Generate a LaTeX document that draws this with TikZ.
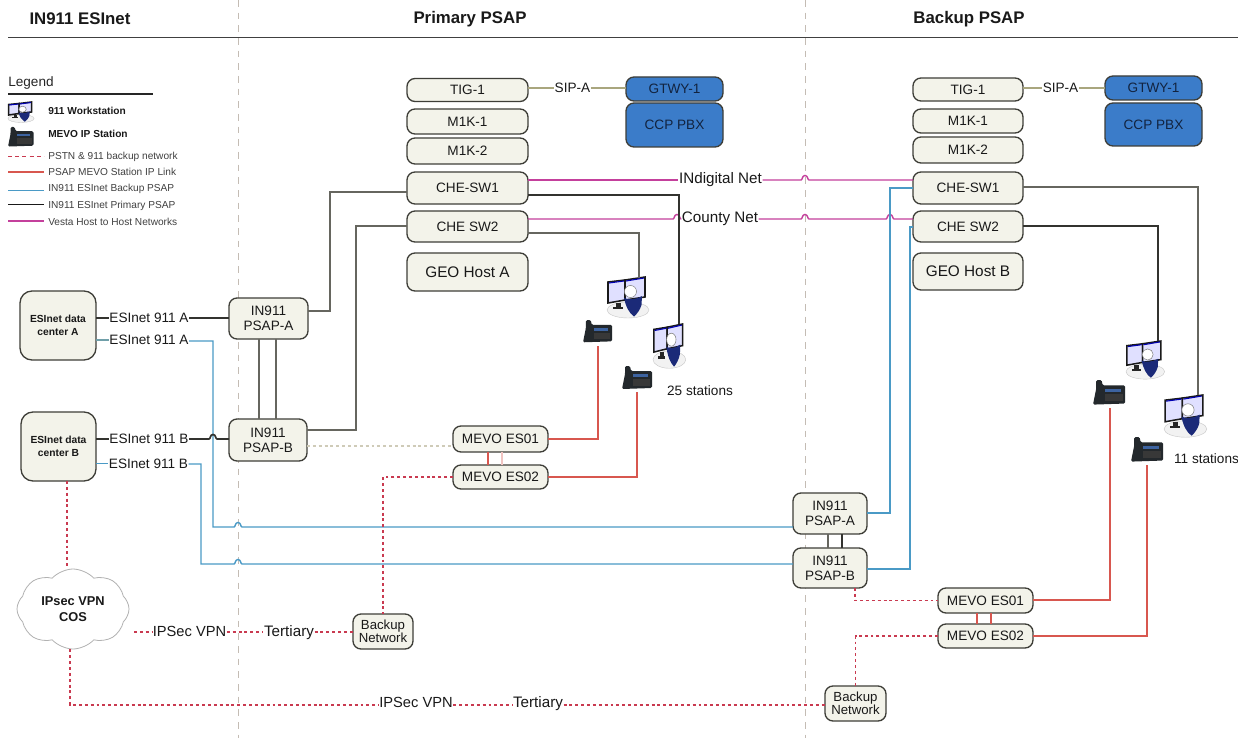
\documentclass[tikz,border=0pt]{standalone}
\usepackage{fontspec}
\setmainfont{Liberation Sans}
\usetikzlibrary{shapes.symbols}
\definecolor{boxfill}{HTML}{F3F3EA}
\definecolor{boxline}{HTML}{3E3E38}
\definecolor{pbxfill}{HTML}{3B7CC9}
\definecolor{pbxtext}{HTML}{12233F}
\definecolor{darkln}{HTML}{33332F}
\definecolor{greyln}{HTML}{66665F}
\definecolor{tanln}{HTML}{A9A67E}
\definecolor{blueln}{HTML}{4A9AC6}
\definecolor{pinkln}{HTML}{C4409C}
\definecolor{redln}{HTML}{D8574F}
\definecolor{reddash}{HTML}{C93A50}
\definecolor{paledash}{HTML}{CFCBB8}
\definecolor{divider}{HTML}{C4BCB4}
\definecolor{navyfig}{HTML}{1B2A78}
\definecolor{phonebody}{HTML}{23282C}
\definecolor{phonescreen}{HTML}{3D63A0}
\tikzset{
  size/.style 2 args={minimum width=#1*0.75pt,minimum height=#2*0.75pt},
  box/.style={draw=boxline,fill=boxfill,line width=1pt,rounded corners=6pt,inner sep=0pt,outer sep=0pt,align=center,text=black!90,font=\fontsize{10.2}{11.5}\selectfont},
  bluebox/.style={box,fill=pbxfill,draw=boxline,text=pbxtext},
  lbl/.style={inner sep=0.5pt,outer sep=0pt,text height=7.3pt,text depth=0pt,text=black!90,font=\fontsize{10.2}{12}\selectfont},
  lblbig/.style={lbl,text height=8.2pt,font=\fontsize{11.4}{13}\selectfont},
  lblmid/.style={lbl,text height=7.9pt,font=\fontsize{11}{13}\selectfont},
  legtext/.style={anchor=west,inner sep=0pt,text=black!75,font=\fontsize{7.6}{9}\selectfont},
  legbold/.style={anchor=west,inner sep=0pt,text=black!90,font=\fontsize{7.6}{9}\bfseries\selectfont},
  head/.style={inner sep=0pt,text=black!90,font=\fontsize{12.6}{14}\bfseries\selectfont},
  dkline/.style={draw=darkln,line width=1pt},
  gyline/.style={draw=greyln,line width=0.95pt},
  tnline/.style={draw=tanln,line width=0.95pt},
  blline/.style={draw=blueln,line width=1.05pt},
  pkline/.style={draw=pinkln,line width=1.05pt},
  rdline/.style={draw=redln,line width=1pt},
  rddash/.style={draw=reddash,line width=0.95pt,dash pattern=on 2.2pt off 2.2pt},
  pldash/.style={draw=paledash,line width=0.9pt,dash pattern=on 2.2pt off 2.2pt},
  divline/.style={draw=divider,line width=0.7pt,dash pattern=on 5pt off 4.5pt},
}
\newcommand\bump[2]{-- ({#1-4},#2) .. controls ({#1-2.5},#2) and ({#1-3},{#2-4.5}) .. (#1,{#2-4.5}) .. controls ({#1+3},{#2-4.5}) and ({#1+2.5},#2) .. ({#1+4},#2)}
\newcommand\workicon[4]{%
 \begin{scope}[shift={(#1,#2)},xscale=#3,yscale=#4]
  \fill[fill=black!5,draw=black!22,line width=0.3pt] (21,33) ellipse [x radius=21,y radius=8];
  \fill[black!85] (9,26) rectangle (14,30);
  \fill[black!85] (6,30) -- (16,30) -- (16,32) -- (6,32) -- cycle;
  \fill[fill=white!88!blue,draw=black!90,line width=1.15pt] (1,5) -- (18,3) -- (18,23) -- (1,26) -- cycle;
  \fill[fill=white!88!blue,draw=black!90,line width=1.15pt] (18,3) -- (38,0) -- (38,20) -- (18,23) -- cycle;
  \draw[blue!70!black,line width=0.8pt] (2,6) -- (17,4) (19,4) -- (37,1);
  \fill[white] (23.5,14.5) circle [radius=6];
  \draw[black!50,line width=0.4pt] (23.5,14.5) circle [radius=6];
  \fill[navyfig] (17,21) .. controls (21,23) and (28,23) .. (35,19) -- (34.5,28) .. controls (33,33) and (30,37) .. (27,39.5) .. controls (22,36) and (19,30) .. cycle;
 \end{scope}}
\newcommand\phoneicon[3]{%
 \begin{scope}[shift={(#1,#2)},scale=#3]
  \fill[phonebody,rounded corners=1pt] (3,0) -- (8,0) -- (9,5) -- (30,5) -- (30,22) -- (0,23) -- (3,8) -- cycle;
  \fill[phonescreen] (11,8) rectangle (26,11);
  \fill[black!78] (11,13) rectangle (28,20);
 \end{scope}}
\begin{document}
\begin{tikzpicture}[x=0.75pt,y=-0.75pt]
\useasboundingbox (0,0) rectangle (1238,738);
\fill[white] (0,0) rectangle (1238,738);

% dividers and headings
\coordinate (divAtop) at (238,0); \coordinate (divAbot) at (238,738);
\coordinate (divBtop) at (805,0); \coordinate (divBbot) at (805,738);
\draw[divline] (divAtop) -- (divAbot);
\draw[divline] (divBtop) -- (divBbot);
\coordinate (ruleL) at (8,37.5); \coordinate (ruleR) at (1238,37.5);
\draw[draw=black!75,line width=1.3pt] (ruleL) -- (ruleR);
\node[head] (hEsi) at (80,19) {IN911 ESInet};
\node[head] (hPri) at (470,19) {Primary PSAP};
\node[head] (hBak) at (969,19) {Backup PSAP};

% legend
\node[anchor=west,inner sep=0pt,text=black!85,font=\fontsize{10.2}{12}\selectfont] (lgdT) at (8,83) {Legend};
\coordinate (lgdA) at (8,94); \coordinate (lgdB) at (153,94);
\draw[draw=black!85,line width=1.1pt] (lgdA) -- (lgdB);
\workicon{8}{102}{0.62}{0.5}
\phoneicon{8}{127}{0.85}
\node[legbold] (lg1) at (48,111) {911 Workstation};
\node[legbold] (lg2) at (48,134) {MEVO IP Station};
\node[legtext] (lg3) at (48,156.5) {PSTN \& 911 backup network};
\node[legtext] (lg4) at (48,172) {PSAP MEVO Station IP Link};
\node[legtext] (lg5) at (48,188.5) {IN911 ESInet Backup PSAP};
\node[legtext] (lg6) at (48,205.5) {IN911 ESInet Primary PSAP};
\node[legtext] (lg7) at (48,221.5) {Vesta Host to Host Networks};
\draw[rddash,dash pattern=on 3pt off 2.4pt] (lg3.west) ++(-40,0) -- ++(36,0);
\draw[rdline] (lg4.west) ++(-40,0) -- ++(36,0);
\draw[blline] (lg5.west) ++(-40,2) -- ++(36,0);
\draw[dkline,draw=black!90] (lg6.west) ++(-40,-1) -- ++(36,0);
\draw[pkline] (lg7.west) ++(-40,-0.5) -- ++(36,0);

% primary PSAP boxes
\node[box,size={121}{23}] (tigA) at (467.5,90) {TIG-1};
\node[box,size={121}{25}] (mkA1) at (467.5,121.5) {M1K-1};
\node[box,size={121}{26}] (mkA2) at (467.5,151) {M1K-2};
\node[box,size={121}{32}] (swA1) at (467.5,188) {CHE-SW1};
\node[box,size={121}{31}] (swA2) at (467.5,226.5) {CHE SW2};
\node[box,size={121}{38},font=\fontsize{11.5}{13}\selectfont] (geoA) at (467.5,272) {GEO Host A};
\node[bluebox,size={97}{24}] (gwA) at (674.5,89) {GTWY-1};
\node[bluebox,size={97}{44}] (pbxA) at (674.5,125) {CCP PBX};

% backup PSAP boxes
\node[box,size={110}{23}] (tigB) at (968,89.5) {TIG-1};
\node[box,size={110}{24}] (mkB1) at (968,121) {M1K-1};
\node[box,size={110}{26}] (mkB2) at (968,150) {M1K-2};
\node[box,size={110}{32}] (swB1) at (968,188) {CHE-SW1};
\node[box,size={110}{31}] (swB2) at (968,226.5) {CHE SW2};
\node[box,size={110}{37},font=\fontsize{11.5}{13}\selectfont] (geoB) at (968,271.5) {GEO Host B};
\node[bluebox,size={97}{24}] (gwB) at (1153.5,88) {GTWY-1};
\node[bluebox,size={97}{43}] (pbxB) at (1153.5,124.5) {CCP PBX};

% ESInet and PSAP routers
\node[box,size={76}{69},rounded corners=9pt,font=\fontsize{7.7}{9.5}\bfseries\selectfont] (dcA) at (58,325.5) {ESInet data\\center A};
\node[box,size={75}{69},rounded corners=9pt,font=\fontsize{7.7}{9.5}\bfseries\selectfont] (dcB) at (58.5,446.5) {ESInet data\\center B};
\node[box,size={79}{41}] (paA) at (268.5,318.5) {IN911\\PSAP-A};
\node[box,size={78}{42}] (pbA) at (268,440) {IN911\\PSAP-B};
\node[box,size={74}{41}] (paB) at (830,513.5) {IN911\\PSAP-A};
\node[box,size={74}{40}] (pbB) at (830,568) {IN911\\PSAP-B};

% MEVO and backup networks
\node[box,size={95}{26}] (meA1) at (500.5,439) {MEVO ES01};
\node[box,size={95}{24}] (meA2) at (500.5,477) {MEVO ES02};
\node[box,size={95}{25}] (meB1) at (985.5,600.5) {MEVO ES01};
\node[box,size={95}{24}] (meB2) at (985.5,636) {MEVO ES02};
\node[box,size={60}{35},font=\fontsize{9.9}{9.8}\selectfont] (bnA) at (383,631.5) {Backup\\Network};
\node[box,size={61}{35},font=\fontsize{9.9}{9.8}\selectfont] (bnB) at (855.5,703.5) {Backup\\Network};
\node[cloud,cloud puffs=8,cloud puff arc=95,aspect=1.35,draw=black!30,line width=0.6pt,fill=white,inner sep=0pt,minimum width=112*0.75pt,minimum height=80*0.75pt,align=center,text=black!90,font=\fontsize{9.6}{12.5}\bfseries\selectfont] (vpn) at (73,609) {IPsec VPN\\COS};

% labels on connectors
\node[lbl] (sipA) at (572.5,88) {SIP-A};
\node[lbl] (sipB) at (1060.5,88) {SIP-A};
\node[lblbig] (indNet) at (720.5,178.5) {INdigital Net};
\node[lblbig] (cntNet) at (720,217.5) {County Net};
\node[lbl] (e1a) at (149,318) {ESInet 911 A};
\node[lbl] (e2a) at (149,340) {ESInet 911 A};
\node[lbl] (e1b) at (149,439) {ESInet 911 B};
\node[lbl] (e2b) at (148.5,463.5) {ESInet 911 B};
\node[lblmid] (ipA) at (189.5,631) {IPSec VPN};
\node[lblbig] (trA) at (289,631) {Tertiary};
\node[lblmid] (ipB) at (416,702) {IPSec VPN};
\node[lblbig] (trB) at (538,702) {Tertiary};
\node[inner sep=0pt,text=black!90,font=\fontsize{10.2}{12}\selectfont] (st25) at (700,391) {25 stations};
\node[inner sep=0pt,text=black!90,font=\fontsize{10.2}{12}\selectfont] (st11) at (1206.5,459) {11 stations};

% icons
\workicon{607}{277}{1}{1}
\workicon{653}{324}{0.78}{1.08}
\workicon{1126}{341}{0.92}{0.93}
\workicon{1164}{395}{1.02}{1.03}
\phoneicon{583}{320}{0.97}
\phoneicon{622}{366}{1}
\phoneicon{1093}{380}{1.07}
\phoneicon{1131}{437}{1.07}

% junction coordinates
\coordinate (w1top) at (639,278);
\coordinate (w2top) at (679,324);
\coordinate (w3top) at (1158,341);
\coordinate (w4top) at (1198,395);
\coordinate (p1bot) at (598,346);
\coordinate (p2bot) at (637,392);
\coordinate (p3bot) at (1110,408);
\coordinate (p4bot) at (1147,465);

% SIP
\draw[tnline] (tigA.east |- sipA) -- (sipA);
\draw[tnline] (sipA) -- (gwA.west |- sipA);
\draw[tnline] (tigB.east |- sipB) -- (sipB);
\draw[tnline] (sipB) -- (gwB.west |- sipB);

% host to host
\draw[pkline] (swA1.east |- 0,180) -- (indNet.west |- 0,180);
\draw[pkline] (indNet.east |- 0,180) \bump{805}{180} -- (swB1.west |- 0,180);
\draw[pkline] (swA2.east |- 0,219) \bump{677}{219} -- (cntNet.west |- 0,219);
\draw[pkline] (cntNet.east |- 0,219) \bump{805}{219} \bump{890}{219} -- (swB2.west |- 0,219);

% primary core
\coordinate (c1a) at (330,311); \coordinate (c1b) at (330,192);
\coordinate (c2a) at (356,430); \coordinate (c2b) at (356,226);
\draw[dkline,draw=greyln] (paA.east |- c1a) -- (c1a) -- (c1b) -- (swA1.west |- c1b);
\draw[dkline,draw=greyln] (pbA.east |- c2a) -- (c2a) -- (c2b) -- (swA2.west |- c2b);
\draw[gyline,line width=1.1pt] (paA.south -| 259,0) -- (pbA.north -| 259,0);
\draw[gyline,line width=1.1pt] (paA.south -| 276,0) -- (pbA.north -| 276,0);
\draw[dkline] (swA1.east |- 0,195) -| (w2top);
\draw[gyline] (swA2.east |- 0,233) -| (w1top);

% backup core
\coordinate (c3a) at (890,513); \coordinate (c3b) at (890,188);
\coordinate (c4a) at (910,569); \coordinate (c4b) at (910,227);
\draw[blline] (paB.east |- c3a) -- (c3a) -- (c3b) -- (swB1.west |- c3b);
\draw[blline] (pbB.east |- c4a) -- (c4a) -- (c4b) -- (swB2.west |- c4b);
\draw[gyline] (paB.south -| 828,0) -- (pbB.north -| 828,0);
\draw[dkline,line width=1.2pt] (paB.south -| 842,0) -- (pbB.north -| 842,0);
\draw[gyline] (swB1.east |- 0,187) -| (w4top);
\draw[dkline] (swB2.east |- 0,226) -| (w3top);

% ESInet feeds
\draw[dkline] (dcA.east |- e1a) -- (e1a);
\draw[dkline] (e1a) -- (paA.west |- e1a);
\draw[tnline,draw=blueln!60!tanln] (dcA.east |- e2a) -- (e2a);
\draw[blline] (e2a.east |- 0,341) -- (213,341) -- (213,527) \bump{238}{527} -- (paB.west |- 0,527);
\draw[dkline] (dcB.east |- e1b) -- (e1b);
\draw[dkline,line width=1.25pt] (e1b.east |- 0,439) \bump{213}{439} -- (pbA.west |- 0,439);
\draw[blline] (dcB.east |- e2b) -- (e2b);
\draw[blline] (e2b.east |- 0,464) -- (201,464) -- (201,564) \bump{238}{564} -- (pbB.west |- 0,564);

% MEVO station links
\draw[rdline] (meA1.east |- 0,439) -| (p1bot);
\draw[rdline] (meA2.east |- 0,477) -| (p2bot);
\draw[rdline] (meB1.east |- 0,600) -| (p3bot);
\draw[rdline] (meB2.east |- 0,636) -| (p4bot);
\draw[rdline] (meA1.south -| 488,0) -- (meA2.north -| 488,0);
\draw[rdline,draw=redln!35] (meA1.south -| 502,0) -- (meA2.north -| 502,0);
\draw[rdline] (meB1.south -| 977,0) -- (meB2.north -| 977,0);
\draw[rdline] (meB1.south -| 991,0) -- (meB2.north -| 991,0);

% backup networks
\draw[pldash] (pbA.east |- 0,446) -- (meA1.west |- 0,446);
\draw[rddash] (meA2.west) -- (383,477) -- (bnA.north);
\draw[rddash] (pbB.south -| 855,0) |- (meB1.west);
\draw[rddash] (meB2.west) -- (855.5,636) -- (bnB.north);
\draw[rddash] (dcB.south -| 67,0) -- (vpn.north -| 67,0);
\draw[rddash] (134,632) -- (ipA.west |- 0,632);
\draw[rddash] (ipA.east |- 0,632) -- (trA.west |- 0,632);
\draw[rddash] (trA.east |- 0,632) -- (bnA.west |- 0,632);
\draw[rddash] (vpn.south -| 70,0) -- (70,705) -- (ipB.west |- 0,705);
\draw[rddash] (ipB.east |- 0,705) -- (trB.west |- 0,705);
\draw[rddash] (trB.east |- 0,705) -- (bnB.west |- 0,705);
\end{tikzpicture}
\end{document}
